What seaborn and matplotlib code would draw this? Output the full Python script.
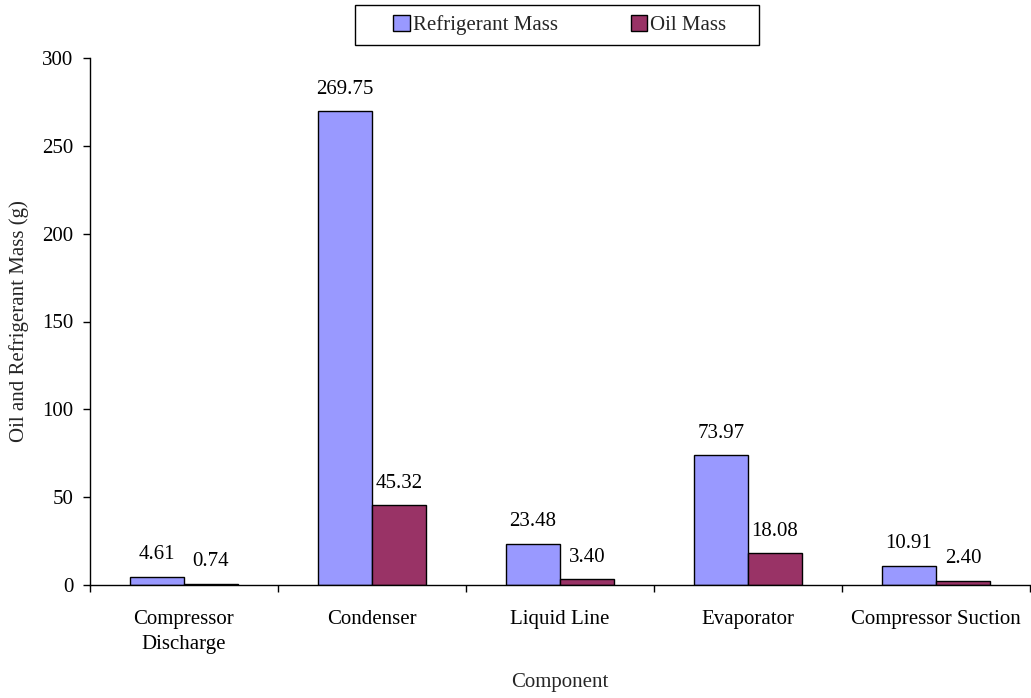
import numpy as np
import pandas as pd
import matplotlib
matplotlib.use("Agg")
import matplotlib.pyplot as plt
from matplotlib.patches import Rectangle
import seaborn as sns

# ---- data ----
components = ["Compressor\nDischarge", "Condenser", "Liquid Line", "Evaporator", "Compressor Suction"]
refrigerant_mass = [4.61, 269.75, 23.48, 73.97, 10.91]
oil_mass = [0.74, 45.32, 3.40, 18.08, 2.40]
series_names = ["Refrigerant Mass", "Oil Mass"]
colors = ["#9999FF", "#993366"]

df = pd.DataFrame({
    "Component": components * 2,
    "Mass": refrigerant_mass + oil_mass,
    "Series": [series_names[0]] * len(components) + [series_names[1]] * len(components),
})

FS = 15
W, H = 1031, 698

sns.set_theme(style="white")
plt.rcParams['font.family'] = ['Liberation Serif', 'DejaVu Serif']
plt.rcParams['font.size'] = FS

fig = plt.figure(figsize=(W / 100, H / 100), dpi=100)
# plot area: x 90..1030, y 58..585 (pixels)
ax = fig.add_axes([90 / W, 1 - 585 / H, 940 / W, 527 / H])

sns.barplot(data=df, x="Component", y="Mass", hue="Series", palette=colors,
            saturation=1, width=0.575, edgecolor="black", linewidth=1.0, ax=ax, legend=True)

for cont in ax.containers:
    ax.bar_label(cont, fmt="%.2f", padding=9, fontsize=FS, color="black")

ax.set_xlim(-0.5, len(components) - 0.5)
ax.set_ylim(0, 300)
ax.set_yticks(np.arange(0, 301, 50))
ax.set_xticks(np.arange(-0.5, len(components), 1.0), minor=True)
ax.tick_params(axis="x", which="major", length=0, pad=18, labelsize=FS, colors="black")
ax.tick_params(axis="x", which="minor", length=5, width=1, direction="out", bottom=True, color="black")
ax.tick_params(axis="y", length=5, width=1, direction="out", left=True, pad=7, labelsize=FS, colors="black")
for lbl in ax.get_xticklabels():
    lbl.set_linespacing(1.45)

for side in ["top", "right"]:
    ax.spines[side].set_visible(False)
for side in ["left", "bottom"]:
    ax.spines[side].set_color("black")
    ax.spines[side].set_linewidth(1)

ax.set_xlabel("Component", fontsize=FS, va="center")
ax.xaxis.set_label_coords(0.5, -(683 - 585) / 527)
ax.set_ylabel("Oil and Refrigerant Mass (g)", fontsize=FS, va="center")
ax.yaxis.set_label_coords(-(90 - 19) / 940, 0.5)

handles, labels = ax.get_legend_handles_labels()
ax.legend(handles, labels, loc="center left", bbox_to_anchor=(393 / W, 1 - 25 / H),
          bbox_transform=fig.transFigure, ncol=2, frameon=False,
          fontsize=FS, handlelength=0.8, handleheight=0.8,
          handletextpad=0.15, columnspacing=3.5, borderpad=0, borderaxespad=0)
fig.patches.append(Rectangle((355 / W, 1 - 45 / H), 404 / W, 40 / H, transform=fig.transFigure,
                             fill=False, edgecolor="black", linewidth=1))

fig.savefig("out.png", dpi=100)
